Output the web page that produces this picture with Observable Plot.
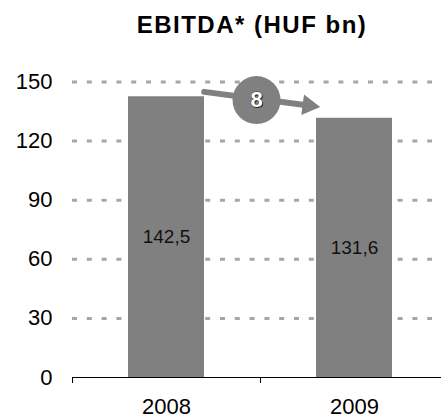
<!DOCTYPE html>
<html>
<head>
<meta charset="utf-8">
<script src="https://cdn.jsdelivr.net/npm/d3@7"></script>
<script src="https://cdn.jsdelivr.net/npm/@observablehq/plot@0.6"></script>
<style>
  html, body { margin: 0; padding: 0; background: #fff; overflow: hidden; }
  #title { margin-left: 72px; width: 360px; height: 50px; line-height: 50px; text-align: center;
           font-family: Arial, "Liberation Sans", sans-serif; font-weight: bold; font-size: 24px;
           letter-spacing: 1.5px; color: #000; }
</style>
</head>
<body>
<div id="title">EBITDA* (HUF bn)</div>
<div id="chart"></div>
<script>
const years = [2008, 2009];
const ebitda = [142.5, 131.6];
const yTicks = [0, 30, 60, 90, 120, 150];
const changeLabel = "8";

const data = years.map((year, i) => ({year, value: ebitda[i]}));
const bounds = [years[0] - 0.5, ...years.map(y => y + 0.5)];
const fmt = v => String(v).replace(".", ",");
const mid = (years[0] + years[1]) / 2;
const arrowData = [{x1: years[0], y1: 147.5, x2: years[1], y2: 135}];

const gray = "#808080";
const plot = Plot.plot({
  width: 441,
  height: 369,
  marginTop: 31.5,
  marginBottom: 42,
  marginLeft: 72,
  marginRight: 9,
  style: {fontFamily: "Arial, 'Liberation Sans', sans-serif", fontSize: "22px", color: "#000", background: "#fff"},
  x: {domain: [bounds[0], bounds[bounds.length - 1]], range: [72, 448], label: null},
  y: {domain: [0, 150], label: null},
  marks: [
    Plot.ruleY(yTicks.filter(t => t > 0), {stroke: "#a6a6a6", strokeWidth: 3, strokeDasharray: "5 9.8"}),
    Plot.rectY(data, {x1: d => d.year - 0.5, x2: d => d.year + 0.5, y: "value", insetLeft: 56, insetRight: 56, fill: gray}),
    Plot.text(data, {x: "year", y: d => d.value / 2, text: d => fmt(d.value), fontSize: 19, fill: "#111"}),
    Plot.ruleY([0], {x1: bounds[0], x2: bounds[bounds.length - 1], stroke: "#000", strokeWidth: 1}),
    Plot.axisX({ticks: bounds, tickSize: 6, tickFormat: () => "", stroke: "#000"}),
    Plot.axisX({ticks: years, tickSize: 0, tickPadding: 21, tickFormat: d => String(d), fontSize: 22}),
    Plot.axisY({ticks: yTicks, tickSize: 0, tickPadding: 20, fontSize: 22}),
    Plot.arrow(arrowData, {
      x1: "x1", y1: "y1", x2: "x2", y2: "y2",
      insetStart: 38, insetEnd: 48, headLength: 0,
      stroke: gray, strokeWidth: 6
    }),
    Plot.dot(arrowData, {
      x: "x2", y: "y2", symbol: "triangle", r: 7.6, rotate: 97.6,
      dx: -46, dy: -6, fill: gray, stroke: null
    }),
    Plot.dot([{x: mid, y: 140.8}], {x: "x", y: "y", r: 24, dx: -4, fill: gray, stroke: null}),
    Plot.text([{x: mid, y: 140.8}], {x: "x", y: "y", text: () => changeLabel, fontSize: 22, fontWeight: "bold", fill: "#222", dx: -3, dy: 1}),
    Plot.text([{x: mid, y: 140.8}], {x: "x", y: "y", text: () => changeLabel, fontSize: 22, fontWeight: "bold", fill: "#fff", stroke: "#333", strokeWidth: 0.8, dx: -4})
  ]
});
document.getElementById("chart").appendChild(plot);
</script>
</body>
</html>
